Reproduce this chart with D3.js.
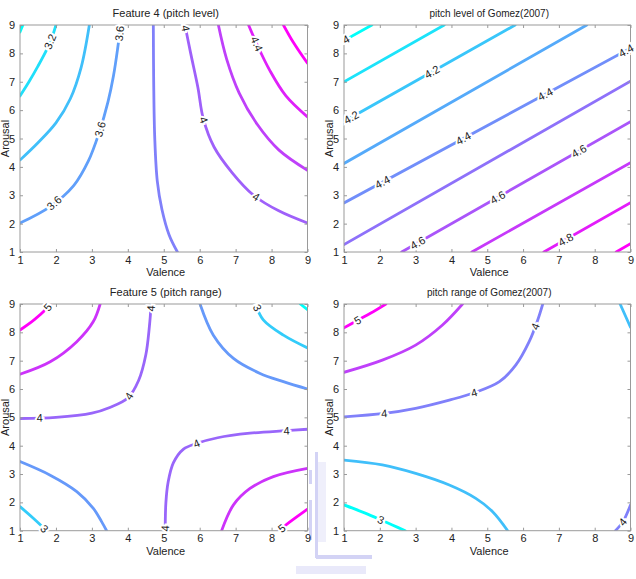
<!DOCTYPE html>
<html>
<head>
<meta charset="utf-8">
<script src="https://cdnjs.cloudflare.com/ajax/libs/d3/7.8.5/d3.min.js"></script>
<style>
  body { margin: 0; background: #fff; }
  svg { display: block; font-family: "Liberation Sans", Arial, sans-serif; }
</style>
</head>
<body>
<svg class="chart" width="636" height="579"></svg>
<script>
// ticks shared by all four plots
var ticks = [1, 2, 3, 4, 5, 6, 7, 8, 9];

// ---- panel 1 : Feature 4 (pitch level)
var p1Levels = [3.0, 3.2, 3.4, 3.6, 3.8, 4.0, 4.2, 4.4, 4.6];
var p1Lines = [
  [[1, 8.75], [1.08, 9]],
  [[1, 6.5], [1.25, 7.0], [1.5, 7.55], [1.75, 8.15], [1.9, 8.6], [2.0, 9]],
  [[1, 4.24], [1.5, 4.85], [2.0, 5.55], [2.4, 6.4], [2.7, 7.5], [2.93, 9]],
  [[1, 2.02], [1.84, 2.6], [2.5, 3.35], [2.9, 4.2], [3.2, 5.2], [3.45, 6.3], [3.6, 7.2], [3.72, 8.2], [3.8, 9]],
  [[4.71, 9], [4.72, 7], [4.75, 5], [4.82, 3.5], [4.95, 2.5], [5.15, 1.6], [5.38, 1]],
  [[5.59, 9], [5.75, 8], [5.95, 6.8], [6.1, 5.7], [6.4, 4.7], [6.9, 3.8], [7.5, 3.0], [8.2, 2.45], [9, 2.02]],
  [[6.52, 9], [6.75, 7.8], [7.1, 6.6], [7.6, 5.5], [8.2, 4.6], [9, 3.88]],
  [[7.36, 9], [7.6, 8.3], [7.95, 7.4], [8.4, 6.5], [9, 5.76]],
  [[8.33, 9], [8.6, 8.4], [9, 7.65]]
];
var p1Labels = [
  ["3.2", 1.84, 8.41], ["3.6", 3.78, 8.7], ["3.6", 3.3, 5.3], ["3.6", 1.97, 2.7],
  ["4", 5.6, 8.88], ["4", 6.15, 5.67], ["4", 7.57, 2.94], ["4.4", 7.62, 8.35]
];

// ---- panel 2 : pitch level of Gomez(2007)
var p2Levels = [4.0, 4.1, 4.2, 4.3, 4.4, 4.5, 4.6, 4.7, 4.8, 4.9];
var p2Lines = [
  [[1, 8.45], [1.78, 9]],
  [[1, 7.0], [3.8, 9]],
  [[1, 5.6], [5.78, 9]],
  [[1, 4.12], [7.78, 9]],
  [[1, 2.73], [9, 8.18]],
  [[1, 1.26], [9, 7.02]],
  [[2.61, 1], [9, 5.59]],
  [[4.57, 1], [9, 4.15]],
  [[6.58, 1], [9, 2.74]],
  [[8.6, 1], [9, 1.29]]
];
var p2Labels = [
  ["4", 1.07, 8.47], ["4.2", 1.23, 5.68], ["4.2", 3.49, 7.27],
  ["4.4", 2.07, 3.47], ["4.4", 4.31, 5.06], ["4.4", 6.58, 6.65], ["4.4", 8.83, 8.2],
  ["4.6", 3.05, 1.35], ["4.6", 5.32, 2.86], ["4.6", 7.57, 4.53], ["4.8", 7.23, 1.35]
];

// ---- panel 3 : Feature 5 (pitch range)
var p3Levels = [5.0, 4.5, 4.0, 4.0, 3.5, 3.0, 2.5, 3.5, 3.0, 4.5, 5.0];
var p3Lines = [
  [[1, 8.08], [1.4, 8.45], [1.75, 8.85], [1.85, 9]],
  [[1, 6.52], [1.84, 6.96], [2.58, 7.67], [3.04, 8.38], [3.23, 9]],
  [[1, 4.96], [2, 5.0], [3, 5.15], [3.5, 5.35], [4.0, 5.68], [4.3, 6.3], [4.5, 7.2], [4.6, 8.2], [4.65, 9]],
  [[5.04, 1], [5.06, 2], [5.12, 2.7], [5.27, 3.4], [5.55, 3.88], [5.92, 4.08], [6.5, 4.28], [7.4, 4.44], [8.4, 4.53], [9, 4.58]],
  [[6.01, 9], [6.38, 7.9], [6.94, 7.08], [7.68, 6.55], [8.33, 6.26], [9, 6.0]],
  [[7.55, 9], [7.77, 8.44], [8.33, 7.9], [9, 7.45]],
  [[8.8, 9], [9, 8.8]],
  [[1, 3.44], [1.84, 2.96], [2.58, 2.38], [3.04, 1.79], [3.27, 1.32], [3.41, 1]],
  [[1, 1.85], [1.37, 1.44], [1.74, 1]],
  [[6.61, 1], [6.94, 1.91], [7.4, 2.49], [8.05, 2.91], [9, 3.2]],
  [[8.2, 1], [8.5, 1.3], [9, 1.76]]
];
var p3Labels = [
  ["5", 1.79, 8.87], ["4", 1.55, 4.97], ["4", 4.06, 5.73], ["4", 4.62, 8.85],
  ["4", 5.05, 1.08], ["4", 5.92, 4.05], ["4", 8.42, 4.49],
  ["3", 7.58, 8.85], ["3", 1.7, 1.1], ["5", 8.27, 1.1]
];

// ---- panel 4 : pitch range of Gomez(2007)
var p4Levels = [5.0, 4.5, 4.0, 3.5, 3.0, 4.0, 3.5];
var p4Lines = [
  [[1, 8.16], [1.37, 8.42], [1.75, 8.68], [2.17, 9]],
  [[1, 6.59], [2.07, 7.02], [3.0, 7.55], [3.75, 8.26], [4.31, 9]],
  [[1, 5.02], [2.12, 5.14], [3, 5.32], [3.94, 5.61], [4.64, 5.87], [5.34, 6.26], [5.8, 6.85], [6.17, 7.67], [6.4, 8.4], [6.55, 9]],
  [[1, 3.49], [2.07, 3.32], [3, 3.02], [3.94, 2.61], [4.68, 2.14], [5.15, 1.67], [5.57, 1]],
  [[1, 1.91], [1.61, 1.61], [2.03, 1.38], [2.35, 1.2], [2.71, 1]],
  [[8.58, 1], [8.79, 1.32], [9, 1.91]],
  [[8.71, 9], [9, 8.18]]
];
var p4Labels = [
  ["5", 1.37, 8.44], ["4", 2.12, 5.14], ["4", 4.64, 5.85], ["4", 6.36, 8.2],
  ["3", 2.03, 1.38], ["4", 8.77, 1.32]
];

var panels = [
  {title: "Feature 4 (pitch level)", tsize: 11, left: 20, right: 307.5, top: 25, bottom: 252,
   levels: p1Levels, lines: p1Lines, labels: p1Labels, cmin: 3.0, cmax: 4.6},
  {title: "pitch level of Gomez(2007)", tsize: 10, left: 344, right: 630.5, top: 25, bottom: 252,
   levels: p2Levels, lines: p2Lines, labels: p2Labels, cmin: 4.0, cmax: 4.9},
  {title: "Feature 5 (pitch range)", tsize: 11, left: 20, right: 307.5, top: 304, bottom: 530.7,
   levels: p3Levels, lines: p3Lines, labels: p3Labels, cmin: 2.5, cmax: 5.0},
  {title: "pitch range of Gomez(2007)", tsize: 10, left: 344, right: 630.5, top: 304, bottom: 530.7,
   levels: p4Levels, lines: p4Lines, labels: p4Labels, cmin: 3.0, cmax: 5.0}
];

var svg = d3.select(".chart");

// faint watermark (university logo behind the lower plots)
var wm = svg.append("g").attr("fill", "#c9c9f3").attr("opacity", 0.8);
wm.append("rect").attr("x", 315).attr("y", 452).attr("width", 3).attr("height", 106);
wm.append("rect").attr("x", 316).attr("y", 555).attr("width", 56).attr("height", 4);
wm.append("rect").attr("x", 309).attr("y", 470).attr("width", 3).attr("height", 14);
wm.append("rect").attr("x", 309).attr("y", 500).attr("width", 3).attr("height", 40);
wm.append("rect").attr("x", 318).attr("y", 462).attr("width", 8).attr("height", 80).attr("opacity", 0.35);
wm.append("rect").attr("x", 296).attr("y", 566).attr("width", 70).attr("height", 8).attr("opacity", 0.5);

// cool colormap like matlab
function cool(t) {
  t = Math.max(0, Math.min(1, t));
  return d3.rgb(Math.round(255 * t), Math.round(255 * (1 - t)), 250).toString();
}

panels.forEach(function (p, i) {
  var x = d3.scaleLinear().domain([1, 9]).range([p.left, p.right]);
  var y = d3.scaleLinear().domain([1, 9]).range([p.bottom, p.top]);
  var g = svg.append("g");

  g.append("clipPath").attr("id", "clip" + i)
    .append("rect")
    .attr("x", p.left).attr("y", p.top)
    .attr("width", p.right - p.left).attr("height", p.bottom - p.top);

  var lineNat = d3.line()
    .x(function (d) { return x(d[0]); })
    .y(function (d) { return y(d[1]); })
    .curve(d3.curveCatmullRom.alpha(0.5));

  g.append("g").attr("clip-path", "url(#clip" + i + ")")
    .selectAll("path")
    .data(p.lines)
    .enter().append("path")
      .attr("d", function (d) { return lineNat(d); })
      .attr("fill", "none")
      .attr("stroke-width", 2.8)
      .attr("stroke-linecap", "round")
      .attr("stroke", function (d, j) {
        return cool((p.levels[j] - p.cmin) / (p.cmax - p.cmin));
      });

  // box
  g.append("rect")
    .attr("x", p.left).attr("y", p.top)
    .attr("width", p.right - p.left).attr("height", p.bottom - p.top)
    .attr("fill", "none").attr("stroke", "#9a9a9a").attr("stroke-width", 1);

  // axes, ticks pointing inward
  var xAxis = d3.axisBottom(x).tickValues(ticks).tickSize(-3).tickPadding(4);
  var yAxis = d3.axisLeft(y).tickValues(ticks).tickSize(-3).tickPadding(5);
  g.append("g").attr("transform", "translate(0," + p.bottom + ")").call(xAxis);
  g.append("g").attr("transform", "translate(" + p.left + ",0)").call(yAxis);
  g.append("g").attr("transform", "translate(0," + p.top + ")")
    .call(d3.axisTop(x).tickValues(ticks).tickSize(-3).tickFormat(""));
  g.append("g").attr("transform", "translate(" + p.right + ",0)")
    .call(d3.axisRight(y).tickValues(ticks).tickSize(-3).tickFormat(""));
  g.selectAll(".domain").remove();
  g.selectAll(".tick line").attr("stroke", "#9a9a9a");
  g.selectAll(".tick text").attr("font-size", 11).attr("fill", "#222")
    .attr("font-family", "Liberation Sans, Arial, sans-serif");

  g.append("text")
    .attr("x", (p.left + p.right) / 2 + 2).attr("y", p.top - 8)
    .attr("text-anchor", "middle").attr("font-size", p.tsize).attr("fill", "#222")
    .text(p.title);
  g.append("text")
    .attr("x", (p.left + p.right) / 2 + 2).attr("y", p.bottom + 24)
    .attr("text-anchor", "middle").attr("font-size", 11).attr("fill", "#222")
    .text("Valence");
  g.append("text")
    .attr("transform", "translate(" + (p.left - 11) + "," + ((p.top + p.bottom) / 2) + ")rotate(-90)")
    .attr("text-anchor", "middle").attr("font-size", 11).attr("fill", "#222")
    .text("Arousal");

  // inline contour labels, snapped onto nearest line and turned with it
  p.labels.forEach(function (lb) {
    var px = x(lb[1]), py = y(lb[2]);
    var best = null;
    p.lines.forEach(function (pts) {
      for (var k = 0; k < pts.length - 1; k++) {
        var ax1 = x(pts[k][0]), ay1 = y(pts[k][1]);
        var ax2 = x(pts[k + 1][0]), ay2 = y(pts[k + 1][1]);
        var dx = ax2 - ax1, dy = ay2 - ay1;
        var t = ((px - ax1) * dx + (py - ay1) * dy) / (dx * dx + dy * dy);
        t = Math.max(0, Math.min(1, t));
        var qx = ax1 + t * dx, qy = ay1 + t * dy;
        var dd = (qx - px) * (qx - px) + (qy - py) * (qy - py);
        if (!best || dd < best.dd) best = {dd: dd, x: qx, y: qy, ang: Math.atan2(dy, dx) * 180 / Math.PI};
      }
    });
    var ang = best.ang;
    if (ang > 90) ang -= 180;
    if (ang < -90) ang += 180;
    g.append("text")
      .attr("transform", "translate(" + best.x + "," + best.y + ")rotate(" + ang + ")")
      .attr("text-anchor", "middle").attr("dy", "0.35em")
      .attr("font-size", 11).attr("fill", "#222")
      .attr("stroke", "#fff").attr("stroke-width", 4).attr("paint-order", "stroke")
      .text(lb[0]);
  });
});
</script>
</body>
</html>
